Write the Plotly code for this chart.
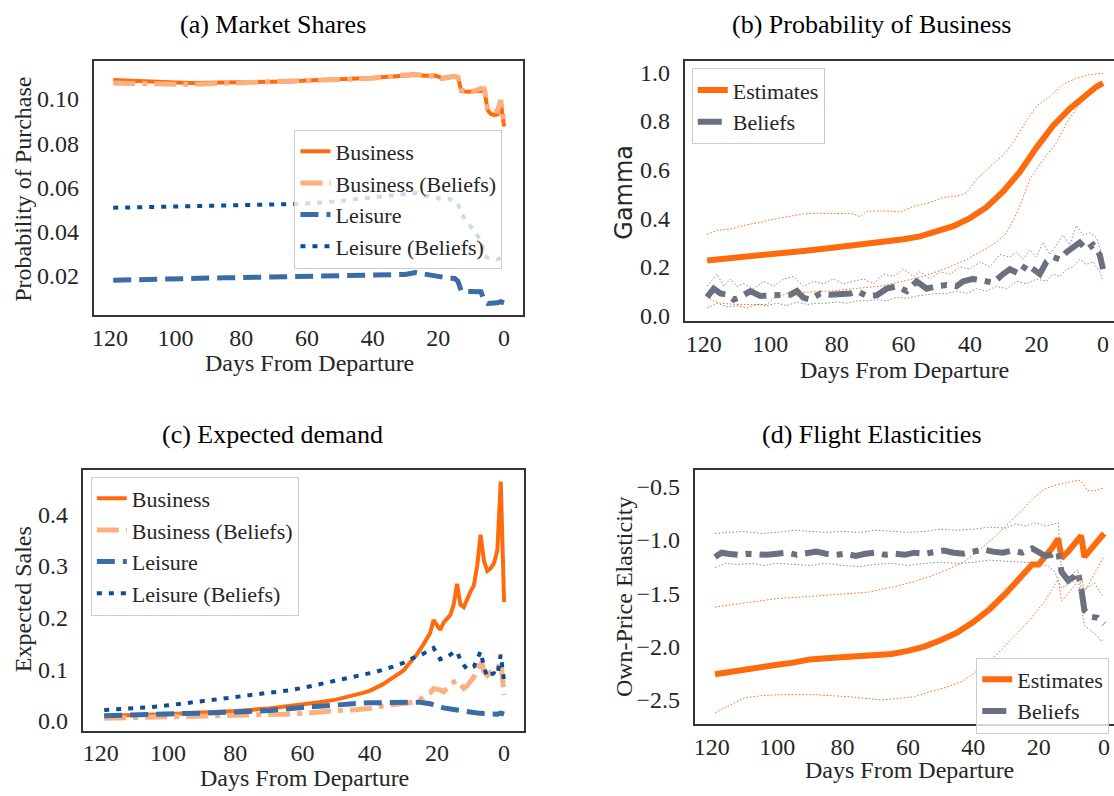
import plotly.graph_objects as go

# ---------------- Panel (a): Market Shares ----------------
A_DAYS = [119, 115, 110, 105, 100, 95, 90, 85, 80, 75, 70, 65, 60, 55, 50, 45, 40, 35, 30, 27,
          24, 21, 19, 17, 15, 14, 13, 11, 9, 7, 6, 5, 4, 3, 2, 1, 0]
A_BUS = [0.1085, 0.1082, 0.1078, 0.1075, 0.1074, 0.1072, 0.1073, 0.1073, 0.1074, 0.1076, 0.1078,
         0.1079, 0.1083, 0.1085, 0.1088, 0.1092, 0.1096, 0.1102, 0.1106, 0.1108, 0.1105, 0.1106,
         0.1095, 0.1098, 0.1103, 0.1098, 0.1035, 0.1032, 0.1032, 0.1036, 0.1040, 0.0950, 0.0932,
         0.0928, 0.0930, 0.0990, 0.0875]
A_BUS_BEL = [0.1072, 0.1070, 0.1068, 0.1066, 0.1066, 0.1066, 0.1068, 0.1069, 0.1071, 0.1074, 0.1076,
             0.1078, 0.1082, 0.1084, 0.1087, 0.1090, 0.1094, 0.1100, 0.1110, 0.1112, 0.1104, 0.1102,
             0.1092, 0.1097, 0.1101, 0.1097, 0.1040, 0.1035, 0.1036, 0.1048, 0.1045, 0.0960, 0.0945,
             0.0948, 0.0945, 0.0995, 0.0895]
A_LEI = [0.0180, 0.0182, 0.0185, 0.0187, 0.0188, 0.0189, 0.0190, 0.0191, 0.0192, 0.0193, 0.0194,
         0.0196, 0.0198, 0.0199, 0.0200, 0.0202, 0.0203, 0.0205, 0.0206, 0.0215, 0.0208, 0.0196,
         0.0192, 0.0190, 0.0188, 0.0175, 0.0130, 0.0128, 0.0130, 0.0128, 0.0085, 0.0075, 0.0076,
         0.0076, 0.0078, 0.0083, 0.0078]
A_LEI_BEL = [0.0508, 0.0509, 0.0510, 0.0511, 0.0512, 0.0514, 0.0516, 0.0517, 0.0519, 0.0520, 0.0522,
             0.0524, 0.0527, 0.0532, 0.0538, 0.0547, 0.0556, 0.0564, 0.0570, 0.0575, 0.0562, 0.0558,
             0.0545, 0.0548, 0.0540, 0.0525, 0.0480, 0.0440, 0.0400, 0.0360, 0.0290, 0.0282, 0.0284,
             0.0278, 0.0275, 0.0282, 0.0272]

# ---------------- Panel (b): Probability of Business ----------------
B_EST_DAYS = [119, 110, 100, 90, 80, 70, 60, 55, 50, 45, 40, 35, 30, 25, 20, 15, 10, 5, 2, 0]
B_EST = [0.226, 0.237, 0.250, 0.265, 0.280, 0.295, 0.313, 0.325, 0.345, 0.367, 0.400, 0.445,
         0.510, 0.590, 0.690, 0.780, 0.850, 0.910, 0.940, 0.955]
B_EST_UP_DAYS = [119, 116, 112, 108, 104, 100, 95, 90, 85, 80, 75, 73, 71, 65, 61, 57, 52, 48, 44,
                 41, 38, 34, 30, 27, 23, 20, 16, 12, 8, 4, 0]
B_EST_UP = [0.333, 0.350, 0.355, 0.370, 0.380, 0.393, 0.405, 0.418, 0.420, 0.418, 0.418, 0.405,
            0.428, 0.430, 0.425, 0.448, 0.465, 0.485, 0.490, 0.505, 0.560, 0.610, 0.660, 0.710,
            0.800, 0.860, 0.900, 0.950, 0.975, 0.990, 0.995]
B_EST_LO_DAYS = [119, 117, 115, 110, 105, 101, 99, 95, 90, 82, 75, 67, 62, 57, 52, 46, 41, 36, 32,
                 29, 27, 25, 22, 18, 14, 11, 8, 5, 2, 0]
B_EST_LO = [0.077, 0.060, 0.050, 0.045, 0.045, 0.045, 0.070, 0.090, 0.095, 0.100, 0.110, 0.120,
            0.135, 0.150, 0.170, 0.200, 0.230, 0.270, 0.300, 0.340, 0.390, 0.450, 0.560, 0.640,
            0.710, 0.790, 0.850, 0.900, 0.930, 0.950]
B_BEL_DAYS = [119, 117, 115, 113, 111, 109, 106, 103, 100, 97, 94, 92, 90, 88, 85, 82, 79, 76, 74,
              71, 68, 65, 62, 59, 56, 53, 50, 47, 44, 42, 39, 36, 33, 30, 28, 25, 23, 21, 19, 17,
              15, 13, 11, 9, 7, 5, 3, 1, 0]
B_BEL = [0.075, 0.110, 0.090, 0.085, 0.065, 0.075, 0.100, 0.080, 0.082, 0.086, 0.085, 0.100, 0.072,
         0.065, 0.090, 0.085, 0.088, 0.090, 0.100, 0.080, 0.083, 0.110, 0.120, 0.100, 0.140, 0.110,
         0.120, 0.125, 0.120, 0.140, 0.150, 0.145, 0.135, 0.170, 0.190, 0.170, 0.210, 0.190, 0.170,
         0.220, 0.240, 0.230, 0.260, 0.280, 0.300, 0.270, 0.290, 0.250, 0.190]
B_BEL_UP_DAYS = [119, 116, 114, 112, 110, 108, 105, 102, 99, 96, 93, 90, 87, 84, 81, 78, 75, 72,
                 69, 66, 63, 60, 57, 55, 52, 49, 46, 43, 40, 37, 34, 31, 28, 26, 24, 22, 20, 18,
                 16, 14, 12, 10, 8, 6, 4, 2, 0]
B_BEL_UP = [0.12, 0.17, 0.12, 0.15, 0.12, 0.13, 0.11, 0.14, 0.12, 0.15, 0.16, 0.12, 0.14, 0.13,
            0.15, 0.13, 0.14, 0.15, 0.13, 0.17, 0.16, 0.19, 0.16, 0.18, 0.15, 0.18, 0.17, 0.20,
            0.19, 0.22, 0.20, 0.25, 0.24, 0.26, 0.23, 0.27, 0.24, 0.30, 0.25, 0.29, 0.33, 0.29,
            0.37, 0.33, 0.34, 0.32, 0.24]
B_BEL_LO_DAYS = [119, 116, 113, 110, 107, 104, 101, 98, 95, 92, 89, 86, 83, 80, 77, 74, 71, 68,
                 65, 62, 59, 56, 53, 50, 47, 44, 41, 38, 35, 32, 29, 26, 23, 20, 17, 15, 13, 11,
                 9, 7, 5, 3, 1, 0]
B_BEL_LO = [0.030, 0.050, 0.035, 0.040, 0.030, 0.045, 0.040, 0.050, 0.040, 0.055, 0.045, 0.050,
            0.050, 0.055, 0.050, 0.060, 0.060, 0.065, 0.060, 0.075, 0.070, 0.080, 0.085, 0.090,
            0.090, 0.100, 0.090, 0.110, 0.100, 0.120, 0.110, 0.140, 0.130, 0.150, 0.140, 0.170,
            0.160, 0.190, 0.200, 0.230, 0.210, 0.220, 0.180, 0.140]

# ---------------- Panel (c): Expected demand ----------------
C_BUS_DAYS = [119, 110, 100, 90, 80, 70, 60, 55, 50, 45, 42, 40, 36, 33, 30, 28, 26, 24, 23, 22,
              21, 19, 18, 16, 15, 14, 13, 12, 10, 9, 8, 7, 6, 5, 4, 3, 2, 1, 0]
C_BUS = [0.010, 0.011, 0.013, 0.016, 0.019, 0.024, 0.031, 0.036, 0.041, 0.048, 0.054, 0.058,
         0.071, 0.084, 0.097, 0.113, 0.128, 0.148, 0.160, 0.170, 0.195, 0.176, 0.190, 0.205,
         0.225, 0.265, 0.225, 0.220, 0.250, 0.262, 0.300, 0.360, 0.310, 0.290, 0.295, 0.305,
         0.330, 0.463, 0.230]
C_BUS_BEL_DAYS = [119, 110, 100, 90, 80, 70, 65, 60, 55, 50, 45, 40, 36, 33, 30, 28, 26, 24, 22,
                  21, 19, 18, 16, 15, 14, 13, 12, 11, 10, 9, 8, 7, 6, 5, 4, 3, 2, 1, 0]
C_BUS_BEL = [0.005, 0.006, 0.007, 0.008, 0.009, 0.011, 0.013, 0.014, 0.018, 0.020, 0.021, 0.024,
             0.029, 0.031, 0.033, 0.035, 0.039, 0.045, 0.054, 0.062, 0.060, 0.056, 0.068, 0.075,
             0.078, 0.070, 0.063, 0.068, 0.075, 0.085, 0.100, 0.120, 0.095, 0.088, 0.094, 0.097,
             0.098, 0.115, 0.050]
C_LEI_DAYS = [119, 110, 100, 90, 80, 70, 60, 55, 50, 45, 40, 35, 31, 28, 25, 22, 20, 18, 15, 12,
              10, 8, 6, 4, 2, 1, 0]
C_LEI = [0.010, 0.011, 0.013, 0.015, 0.017, 0.020, 0.026, 0.029, 0.031, 0.033, 0.035, 0.036,
         0.037, 0.037, 0.036, 0.033, 0.028, 0.025, 0.022, 0.018, 0.016, 0.015, 0.014, 0.013,
         0.013, 0.015, 0.013]
C_LEI_BEL_DAYS = [119, 112, 106, 100, 96, 90, 85, 80, 73, 68, 64, 59, 54, 48, 43, 38, 33, 30, 27,
                  24, 21, 20, 19, 17, 15, 14, 13, 12, 11, 9, 8, 7, 6, 5, 4, 3, 2, 1, 0]
C_LEI_BEL = [0.021, 0.023, 0.026, 0.030, 0.033, 0.037, 0.042, 0.046, 0.052, 0.055, 0.059, 0.065,
             0.072, 0.080, 0.087, 0.095, 0.105, 0.112, 0.122, 0.130, 0.141, 0.128, 0.119, 0.123,
             0.133, 0.134, 0.118, 0.108, 0.100, 0.105, 0.118, 0.134, 0.105, 0.085, 0.090, 0.092,
             0.088, 0.128, 0.077]

# ---------------- Panel (d): Flight Elasticities ----------------
D_EST_DAYS = [119, 115, 110, 105, 100, 95, 90, 85, 80, 75, 70, 65, 60, 55, 50, 45, 40, 35, 30,
              27, 24, 22, 20, 18, 16, 14, 13, 11, 9, 7, 6, 4, 2, 0]
D_EST = [-2.26, -2.24, -2.21, -2.19, -2.17, -2.15, -2.12, -2.11, -2.10, -2.10, -2.09, -2.07,
         -2.04, -2.00, -1.94, -1.87, -1.77, -1.65, -1.50, -1.40, -1.29, -1.23, -1.23, -1.16,
         -1.08, -0.99, -1.17, -1.11, -1.04, -0.96, -1.16, -1.09, -1.01, -0.94]
D_EST_UP_DAYS = [119, 110, 100, 90, 80, 72, 63, 58, 53, 48, 43, 38, 33, 28, 25, 22, 18, 15, 12,
                 8, 7, 5, 3, 1, 0]
D_EST_UP = [-1.63, -1.59, -1.55, -1.53, -1.51, -1.49, -1.43, -1.39, -1.34, -1.28, -1.21, -1.09,
            -0.96, -0.81, -0.72, -0.62, -0.52, -0.49, -0.47, -0.44, -0.45, -0.54, -0.54, -0.52,
            -0.52]
D_EST_LO_DAYS = [119, 115, 110, 105, 99, 89, 78, 68, 58, 53, 48, 43, 38, 33, 28, 23, 18, 14, 13,
                 9, 7, 6, 3, 0]
D_EST_LO = [-2.62, -2.56, -2.48, -2.46, -2.45, -2.45, -2.47, -2.50, -2.47, -2.42, -2.38, -2.32,
            -2.21, -2.08, -1.92, -1.76, -1.57, -1.37, -1.57, -1.43, -1.33, -1.49, -1.32, -1.15]
D_BEL_DAYS = [119, 117, 115, 112, 109, 106, 103, 100, 97, 94, 91, 88, 85, 82, 79, 76, 73, 70, 67,
              64, 61, 58, 55, 52, 49, 46, 43, 40, 37, 34, 31, 28, 25, 22, 20, 18, 16, 14, 13, 11,
              9, 8, 7, 6, 4, 2, 0]
D_BEL = [-1.16, -1.12, -1.13, -1.14, -1.13, -1.14, -1.14, -1.13, -1.12, -1.14, -1.12, -1.11,
         -1.13, -1.14, -1.13, -1.15, -1.13, -1.12, -1.14, -1.13, -1.14, -1.12, -1.13, -1.11,
         -1.10, -1.12, -1.13, -1.11, -1.09, -1.11, -1.12, -1.10, -1.12, -1.08, -1.12, -1.15,
         -1.14, -1.11, -1.30, -1.38, -1.34, -1.30, -1.45, -1.66, -1.72, -1.73, -1.79]
D_BEL_UP_DAYS = [119, 115, 110, 105, 100, 95, 90, 85, 80, 75, 70, 65, 60, 55, 50, 45, 40, 35, 30,
                 27, 24, 21, 18, 15, 14, 13, 11, 9, 8, 7, 5, 3, 1, 0]
D_BEL_UP = [-0.94, -0.93, -0.92, -0.94, -0.93, -0.91, -0.92, -0.93, -0.92, -0.93, -0.91, -0.92,
            -0.93, -0.92, -0.90, -0.91, -0.90, -0.88, -0.89, -0.85, -0.87, -0.84, -0.87, -0.85,
            -0.84, -1.30, -1.40, -1.30, -1.28, -1.45, -1.45, -1.40, -1.50, -1.53]
D_BEL_LO_DAYS = [119, 116, 112, 108, 104, 100, 95, 90, 85, 80, 75, 70, 65, 60, 55, 50, 45, 40, 35,
                 30, 25, 20, 17, 15, 14, 13, 11, 9, 8, 7, 6, 4, 2, 1, 0]
D_BEL_LO = [-1.26, -1.22, -1.23, -1.22, -1.24, -1.22, -1.23, -1.24, -1.22, -1.24, -1.25, -1.23,
            -1.22, -1.24, -1.22, -1.21, -1.22, -1.21, -1.19, -1.20, -1.21, -1.22, -1.25, -1.30,
            -1.38, -1.45, -1.42, -1.38, -1.33, -1.62, -1.80, -1.85, -1.90, -1.95, -1.93]

X_TICKS = [0, 20, 40, 60, 80, 100, 120]

# ---------------- styling ----------------
SERIF = "Liberation Serif, Times New Roman, serif"
ORANGE = "#FF6A0D"
LIGHT_ORANGE = "#FDB07F"
STEEL = "#3A6CA7"
NAVY = "#0B4D97"
SLATE = "#6B7080"
BAND_GRAY = "#8C8C8C"
SPINE = "#333333"
TICKC = "#262626"

W, H = 1114, 796

fig = go.Figure()


def line(ax, x, y, color, width, dash="solid", name=None, legend=None):
    fig.add_trace(go.Scatter(
        x=x, y=y, mode="lines", name=name,
        showlegend=name is not None, legend=legend,
        line=dict(color=color, width=width, dash=dash),
        xaxis="x" + ax, yaxis="y" + ax, hoverinfo="skip"))


DASHDOT = "22px,7px,5px,7px"
DASH = "18px,8px"
DOT = "5px,7px"
THIN_DOT = "1.5px,2px"

# (a)
line("", A_DAYS, A_BUS, ORANGE, 4, "solid", "Business", "legend")
line("", A_DAYS, A_BUS_BEL, LIGHT_ORANGE, 5, DASHDOT, "Business (Beliefs)", "legend")
line("", A_DAYS, A_LEI, STEEL, 5, DASH, "Leisure", "legend")
line("", A_DAYS, A_LEI_BEL, NAVY, 4, DOT, "Leisure (Beliefs)", "legend")

# (b)
line("2", B_EST_DAYS, B_EST, ORANGE, 6, "solid", "Estimates", "legend2")
line("2", B_BEL_DAYS, B_BEL, SLATE, 6, "24px,8px,6px,8px", "Beliefs", "legend2")
line("2", B_EST_UP_DAYS, B_EST_UP, ORANGE, 1, THIN_DOT)
line("2", B_EST_LO_DAYS, B_EST_LO, ORANGE, 1, THIN_DOT)
line("2", B_BEL_UP_DAYS, B_BEL_UP, BAND_GRAY, 1, THIN_DOT)
line("2", B_BEL_LO_DAYS, B_BEL_LO, BAND_GRAY, 1, THIN_DOT)

# (c)
line("3", C_BUS_DAYS, C_BUS, ORANGE, 4, "solid", "Business", "legend3")
line("3", C_BUS_BEL_DAYS, C_BUS_BEL, LIGHT_ORANGE, 5, DASHDOT, "Business (Beliefs)", "legend3")
line("3", C_LEI_DAYS, C_LEI, STEEL, 5, DASH, "Leisure", "legend3")
line("3", C_LEI_BEL_DAYS, C_LEI_BEL, NAVY, 4, DOT, "Leisure (Beliefs)", "legend3")

# (d)
line("4", D_EST_DAYS, D_EST, ORANGE, 6, "solid", "Estimates", "legend4")
line("4", D_BEL_DAYS, D_BEL, SLATE, 6, "24px,8px,6px,8px", "Beliefs", "legend4")
line("4", D_EST_UP_DAYS, D_EST_UP, ORANGE, 1, THIN_DOT)
line("4", D_EST_LO_DAYS, D_EST_LO, ORANGE, 1, THIN_DOT)
line("4", D_BEL_UP_DAYS, D_BEL_UP, BAND_GRAY, 1, THIN_DOT)
line("4", D_BEL_LO_DAYS, D_BEL_LO, BAND_GRAY, 1, THIN_DOT)


def px_x(p):
    return p / W


def px_y(p):
    return 1 - p / H


def xaxis(dom, rng, anchor):
    return dict(domain=[px_x(dom[0]), px_x(dom[1])], range=rng, anchor=anchor,
                tickvals=X_TICKS, showgrid=False, zeroline=False, showline=True,
                mirror=True, linecolor=SPINE, linewidth=2, ticks="",
                ticklabelstandoff=0,
                tickfont=dict(family=SERIF, size=24, color=TICKC))


def yaxis(dom, rng, anchor, tickvals, fmt, mirror):
    return dict(domain=[px_y(dom[1]), px_y(dom[0])], range=rng, anchor=anchor,
                tickvals=tickvals, tickformat=fmt, showgrid=False, zeroline=False,
                showline=True, mirror=mirror, linecolor=SPINE, linewidth=2, ticks="",
                ticklabelstandoff=8,
                tickfont=dict(family=SERIF, size=24, color=TICKC))


LEG = dict(bgcolor="rgba(255,255,255,0.8)", bordercolor="#CCCCCC", borderwidth=1,
           font=dict(family=SERIF, size=22, color=TICKC), itemwidth=30,
           xanchor="left", yanchor="top", tracegroupgap=0)

fig.update_layout(
    width=W, height=H, margin=dict(l=0, r=0, t=0, b=0),
    paper_bgcolor="white", plot_bgcolor="white",
    xaxis=xaxis((92, 522), [124.9, -5.8], "y"),
    yaxis=yaxis((60, 317), [0.0021, 0.117], "x", [0.02, 0.04, 0.06, 0.08, 0.10], ".2f", True),
    xaxis2=xaxis((684, 1114), [125.7, -3.3], "y2"),
    yaxis2=yaxis((60, 323), [-0.0244, 1.0447], "x2", [0.0, 0.2, 0.4, 0.6, 0.8, 1.0], ".1f", False),
    xaxis3=xaxis((81, 523), [125.35, -5.94], "y3"),
    yaxis3=yaxis((473, 737), [-0.019, 0.486], "x3", [0.0, 0.1, 0.2, 0.3, 0.4], ".1f", True),
    xaxis4=xaxis((694, 1114), [125.2, -3.05], "y4"),
    yaxis4=yaxis((473, 730), [-2.723, -0.342], "x4", [-2.5, -2.0, -1.5, -1.0, -0.5], ".1f", False),
    legend=dict(LEG, x=px_x(293), y=px_y(129)),
    legend2=dict(LEG, x=px_x(691), y=px_y(67)),
    legend3=dict(LEG, x=px_x(89), y=px_y(480)),
    legend4=dict(LEG, x=px_x(976), y=px_y(663)),
)


def text(t, x, y, size=24, angle=0, family=SERIF, color=TICKC):
    fig.add_annotation(text=t, x=px_x(x), y=px_y(y), xref="paper", yref="paper",
                       showarrow=False, textangle=angle, xanchor="center", yanchor="middle",
                       font=dict(family=family, size=size, color=color))


# panel titles
text("(a) Market Shares", 271, 23, 26, color="black")
text("(b) Probability of Business", 872, 23, 26, color="black")
text("(c) Expected demand", 271, 437, 26, color="black")
text("(d) Flight Elasticities", 872, 437, 26, color="black")
# x titles
text("Days From Departure", 308, 365)
text("Days From Departure", 904, 372)
text("Days From Departure", 303, 785)
text("Days From Departure", 909, 777)
# y titles
text("Probability of Purchase", 21, 189, angle=-90)
text("Gamma", 623, 192, angle=-90, family="DejaVu Sans")
text("Expected Sales", 21, 604, angle=-90)
text("Own-Price Elasticity", 623, 601, angle=-90)

fig.write_html("out.html", config={"displayModeBar": False},
               post_script="document.body.style.margin='0';document.body.style.overflow='hidden';")
